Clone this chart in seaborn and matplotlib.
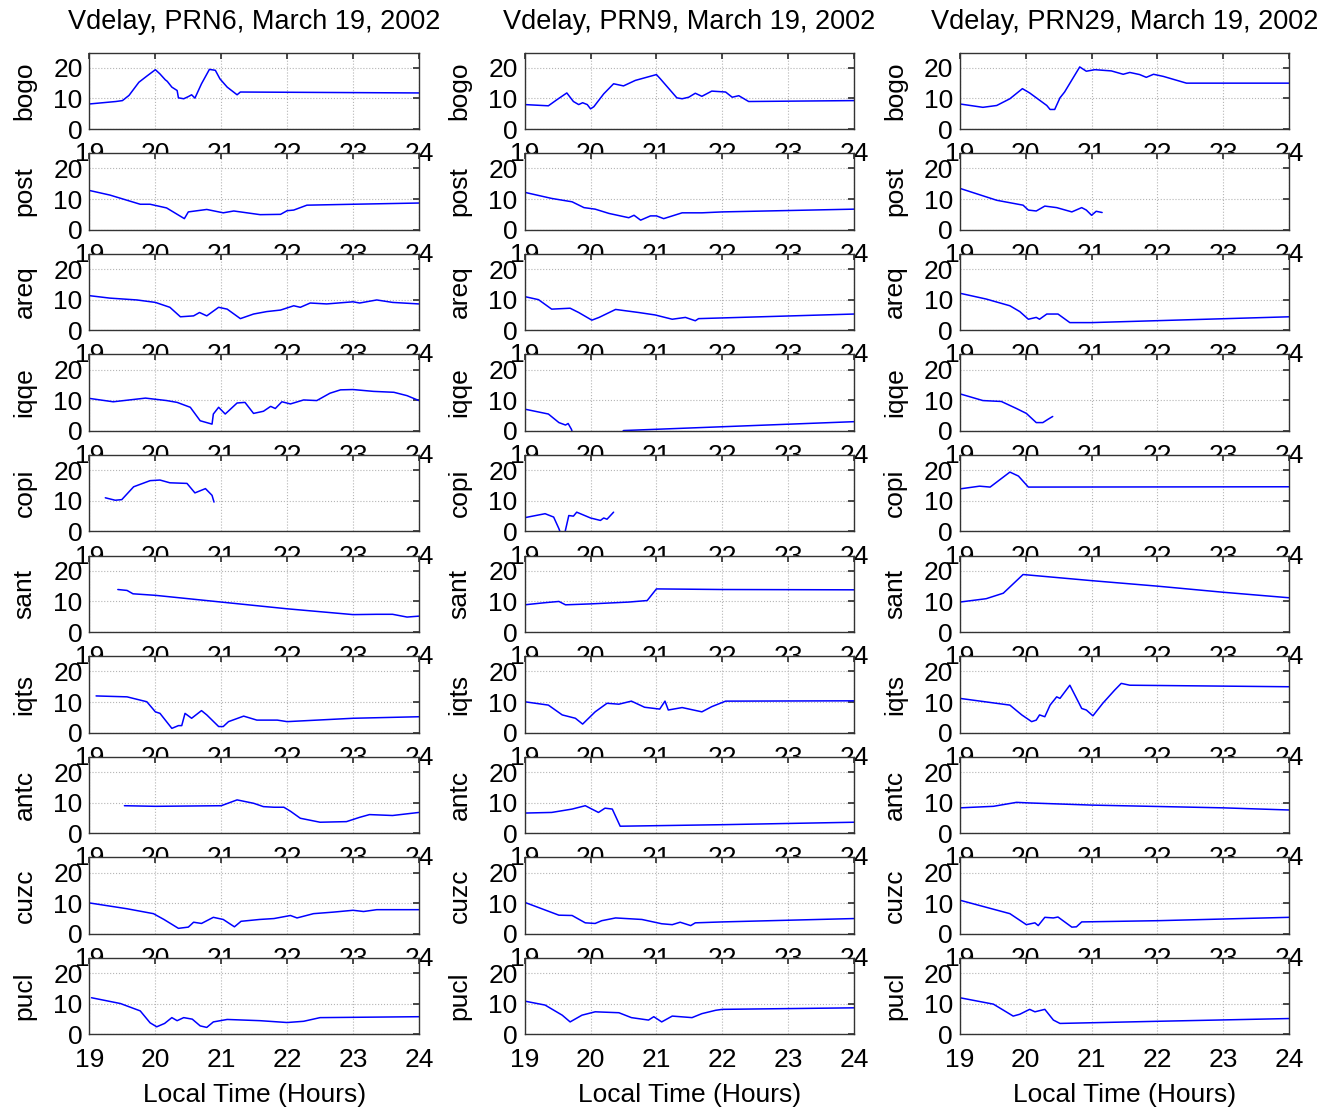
import matplotlib
matplotlib.use("Agg")
import numpy as np
import pandas as pd
import seaborn as sns
from matplotlib import pyplot as plt

PRNS = ["PRN6", "PRN9", "PRN29"]
STATIONS = ["bogo", "post", "areq", "iqqe", "copi", "sant", "iqts", "antc", "cuzc", "pucl"]
X_TICKS = [19, 20, 21, 22, 23, 24]
Y_TICKS = [0, 10, 20]

# ---- PRN6 ----
PRN6_BOGO_T = [19.0, 19.4, 19.5, 19.6, 19.75, 19.87, 20.0, 20.07, 20.15, 20.18, 20.25, 20.33, 20.35, 20.43, 20.5, 20.55, 20.6, 20.7, 20.82, 20.91, 20.98, 21.09, 21.24, 21.29, 24.0]
PRN6_BOGO_V = [8.2, 9.0, 9.3, 11.0, 15.3, 17.3, 19.4, 18.0, 16.1, 15.6, 13.7, 12.6, 10.2, 9.9, 10.6, 11.2, 10.1, 14.8, 19.5, 19.2, 16.4, 13.7, 11.2, 12.1, 11.8]
PRN6_POST_T = [19.0, 19.31, 19.77, 19.92, 20.17, 20.44, 20.5, 20.78, 21.03, 21.19, 21.39, 21.59, 21.9, 22.0, 22.1, 22.3, 23.0, 24.0]
PRN6_POST_V = [12.8, 11.3, 8.3, 8.3, 7.1, 3.6, 5.8, 6.6, 5.5, 6.1, 5.5, 4.9, 5.0, 6.2, 6.4, 8.0, 8.3, 8.7]
PRN6_AREQ_T = [19.0, 19.31, 19.72, 20.0, 20.22, 20.38, 20.58, 20.67, 20.78, 20.96, 21.09, 21.29, 21.49, 21.69, 21.9, 22.1, 22.2, 22.35, 22.6, 23.0, 23.1, 23.36, 23.6, 24.0]
PRN6_AREQ_V = [11.3, 10.5, 9.9, 9.1, 7.5, 4.4, 4.7, 5.8, 4.7, 7.5, 6.9, 3.8, 5.3, 6.1, 6.6, 8.0, 7.5, 8.9, 8.6, 9.3, 8.9, 9.9, 9.1, 8.6]
PRN6_IQQE_T = [19.0, 19.36, 19.85, 20.17, 20.33, 20.53, 20.68, 20.86, 20.88, 20.96, 21.06, 21.24, 21.36, 21.49, 21.64, 21.75, 21.82, 21.92, 22.05, 22.25, 22.45, 22.65, 22.81, 23.0, 23.31, 23.62, 23.82, 24.0]
PRN6_IQQE_V = [10.6, 9.5, 10.7, 9.9, 9.3, 7.7, 3.3, 2.2, 5.5, 7.7, 5.5, 9.1, 9.3, 5.7, 6.4, 8.0, 7.3, 9.5, 8.8, 10.1, 9.9, 12.3, 13.4, 13.5, 12.9, 12.6, 11.5, 9.9]
PRN6_COPI_T = [19.24, 19.39, 19.49, 19.67, 19.92, 20.07, 20.22, 20.48, 20.6, 20.68, 20.76, 20.81, 20.86, 20.89]
PRN6_COPI_V = [11.0, 10.2, 10.4, 14.6, 16.6, 16.8, 15.9, 15.7, 12.6, 13.3, 14.0, 12.9, 11.8, 9.6]
PRN6_SANT_T = [19.43, 19.57, 19.66, 20.0, 21.0, 22.0, 23.0, 23.36, 23.6, 23.82, 24.0]
PRN6_SANT_V = [13.9, 13.6, 12.5, 12.0, 9.8, 7.6, 5.7, 5.8, 5.8, 4.9, 5.2]
PRN6_IQTS_T = [19.1, 19.57, 19.87, 20.0, 20.07, 20.25, 20.35, 20.4, 20.45, 20.55, 20.7, 20.78, 20.96, 21.03, 21.11, 21.34, 21.54, 21.85, 22.0, 23.0, 24.0]
PRN6_IQTS_V = [12.0, 11.7, 10.1, 6.8, 6.3, 1.4, 2.3, 2.3, 6.3, 4.7, 7.2, 5.8, 2.0, 2.0, 3.6, 5.4, 4.1, 4.1, 3.6, 4.7, 5.2]
PRN6_ANTC_T = [19.53, 20.0, 21.0, 21.24, 21.49, 21.64, 21.8, 21.95, 22.05, 22.2, 22.5, 22.9, 23.1, 23.25, 23.6, 24.0]
PRN6_ANTC_V = [9.0, 8.8, 9.0, 10.9, 9.8, 8.7, 8.5, 8.5, 7.2, 4.9, 3.6, 3.8, 5.2, 6.1, 5.8, 6.8]
PRN6_CUZC_T = [19.0, 19.57, 19.97, 20.13, 20.35, 20.5, 20.58, 20.7, 20.88, 21.03, 21.2, 21.3, 21.58, 21.8, 22.05, 22.15, 22.4, 22.7, 23.0, 23.16, 23.36, 24.0]
PRN6_CUZC_V = [10.1, 8.2, 6.6, 4.7, 1.8, 2.2, 3.8, 3.4, 5.4, 4.7, 2.3, 4.1, 4.7, 5.0, 6.0, 5.2, 6.6, 7.1, 7.7, 7.3, 7.9, 7.9]
PRN6_PUCL_T = [19.03, 19.47, 19.77, 19.92, 20.02, 20.14, 20.25, 20.33, 20.43, 20.56, 20.68, 20.78, 20.88, 21.09, 21.59, 22.0, 22.25, 22.5, 24.0]
PRN6_PUCL_V = [12.0, 10.1, 7.7, 3.8, 2.5, 3.6, 5.5, 4.5, 5.5, 5.0, 2.8, 2.3, 4.1, 4.9, 4.5, 3.9, 4.3, 5.5, 5.8]

# ---- PRN9 ----
PRN9_BOGO_T = [19.0, 19.36, 19.49, 19.64, 19.74, 19.82, 19.88, 19.95, 20.0, 20.05, 20.2, 20.35, 20.5, 20.68, 21.0, 21.06, 21.31, 21.39, 21.49, 21.59, 21.69, 21.84, 22.05, 22.15, 22.25, 22.4, 24.0]
PRN9_BOGO_V = [8.0, 7.6, 9.6, 11.8, 9.0, 8.0, 8.6, 8.0, 6.6, 7.3, 11.5, 14.8, 14.1, 15.9, 17.8, 16.4, 10.2, 9.9, 10.4, 11.7, 10.7, 12.4, 12.1, 10.4, 10.9, 9.0, 9.3]
PRN9_POST_T = [19.0, 19.41, 19.72, 19.9, 20.07, 20.28, 20.58, 20.66, 20.76, 20.91, 21.0, 21.11, 21.39, 21.69, 22.0, 24.0]
PRN9_POST_V = [12.2, 10.2, 9.1, 7.2, 6.7, 5.3, 3.9, 4.7, 3.1, 4.5, 4.5, 3.6, 5.5, 5.5, 5.8, 6.7]
PRN9_AREQ_T = [19.0, 19.21, 19.41, 19.69, 19.82, 20.02, 20.13, 20.38, 20.73, 20.98, 21.24, 21.44, 21.59, 21.64, 24.0]
PRN9_AREQ_V = [11.0, 10.0, 6.9, 7.2, 5.8, 3.3, 4.2, 6.8, 5.8, 5.0, 3.6, 4.2, 3.1, 3.8, 5.3]
PRN9_IQQE_T = [19.0, 19.36, 19.52, 19.62, 19.66, 19.71, 19.76, 20.4, 20.5, 24.0]
PRN9_IQQE_V = [7.1, 5.5, 2.7, 1.9, 2.4, 0.5, -3.0, -3.0, 0.1, 3.0]
PRN9_COPI_T = [19.0, 19.31, 19.44, 19.52, 19.56, 19.6, 19.62, 19.67, 19.74, 19.79, 20.0, 20.15, 20.2, 20.25, 20.35]
PRN9_COPI_V = [4.5, 5.8, 4.7, 0.9, -1.5, -1.5, 0.5, 5.2, 5.0, 6.3, 4.4, 3.6, 4.4, 4.0, 6.3]
PRN9_SANT_T = [19.0, 19.31, 19.52, 19.62, 20.0, 20.58, 20.86, 21.0, 22.0, 24.0]
PRN9_SANT_V = [8.9, 9.6, 10.0, 8.9, 9.2, 9.8, 10.3, 14.1, 13.9, 13.8]
PRN9_IQTS_T = [19.0, 19.36, 19.57, 19.77, 19.88, 20.07, 20.25, 20.43, 20.62, 20.82, 21.05, 21.13, 21.18, 21.39, 21.69, 21.84, 22.05, 24.0]
PRN9_IQTS_V = [10.1, 9.0, 5.8, 4.7, 2.8, 6.8, 9.6, 9.3, 10.3, 8.3, 7.7, 10.3, 7.4, 8.2, 6.8, 8.5, 10.3, 10.4]
PRN9_ANTC_T = [19.0, 19.41, 19.72, 19.92, 20.12, 20.22, 20.33, 20.45, 22.0, 24.0]
PRN9_ANTC_V = [6.6, 6.8, 7.9, 9.0, 6.8, 8.2, 7.9, 2.3, 2.8, 3.6]
PRN9_CUZC_T = [19.0, 19.52, 19.72, 19.92, 20.07, 20.17, 20.38, 20.78, 21.08, 21.24, 21.36, 21.52, 21.59, 22.0, 24.0]
PRN9_CUZC_V = [10.3, 6.1, 6.0, 3.6, 3.4, 4.3, 5.2, 4.7, 3.3, 3.0, 3.8, 2.7, 3.6, 3.9, 5.0]
PRN9_PUCL_T = [19.0, 19.31, 19.57, 19.69, 19.87, 20.07, 20.43, 20.62, 20.88, 20.96, 21.08, 21.24, 21.54, 21.69, 21.9, 22.0, 24.0]
PRN9_PUCL_V = [10.9, 9.6, 6.3, 4.1, 6.3, 7.4, 7.1, 5.5, 4.7, 5.8, 4.1, 6.0, 5.5, 6.8, 7.9, 8.2, 8.7]

# ---- PRN29 ----
PRN29_BOGO_T = [19.0, 19.35, 19.56, 19.76, 19.95, 20.06, 20.32, 20.37, 20.44, 20.52, 20.59, 20.82, 20.92, 21.05, 21.3, 21.48, 21.58, 21.73, 21.83, 21.94, 22.09, 22.44, 24.0]
PRN29_BOGO_V = [8.2, 7.1, 7.7, 9.9, 13.2, 11.8, 7.7, 6.4, 6.4, 10.2, 12.1, 20.3, 18.9, 19.4, 19.0, 17.9, 18.5, 17.8, 16.9, 17.9, 17.2, 15.0, 15.0]
PRN29_POST_T = [19.0, 19.56, 19.96, 20.04, 20.16, 20.29, 20.47, 20.7, 20.85, 20.92, 21.0, 21.07, 21.16]
PRN29_POST_V = [13.5, 9.6, 8.0, 6.4, 6.1, 7.7, 7.2, 5.8, 7.2, 6.4, 4.7, 6.0, 5.6]
PRN29_AREQ_T = [19.0, 19.4, 19.76, 19.91, 20.04, 20.16, 20.21, 20.32, 20.49, 20.67, 21.0, 24.0]
PRN29_AREQ_V = [12.1, 10.2, 8.0, 6.1, 3.6, 4.2, 3.6, 5.3, 5.3, 2.5, 2.5, 4.4]
PRN29_IQQE_T = [19.0, 19.35, 19.63, 19.86, 20.01, 20.16, 20.26, 20.34, 20.41]
PRN29_IQQE_V = [12.1, 9.9, 9.6, 7.3, 5.7, 2.7, 2.7, 3.8, 4.7]
PRN29_COPI_T = [19.0, 19.3, 19.46, 19.76, 19.89, 20.04, 24.0]
PRN29_COPI_V = [13.9, 14.8, 14.5, 19.4, 18.1, 14.5, 14.6]
PRN29_SANT_T = [19.0, 19.4, 19.66, 19.96, 21.0, 22.0, 23.0, 24.0]
PRN29_SANT_V = [9.8, 10.9, 12.7, 18.8, 16.8, 15.0, 13.0, 11.2]
PRN29_IQTS_T = [19.0, 19.76, 19.94, 20.09, 20.16, 20.21, 20.29, 20.37, 20.47, 20.52, 20.67, 20.85, 20.92, 21.02, 21.17, 21.35, 21.45, 21.58, 24.0]
PRN29_IQTS_V = [11.2, 9.0, 5.8, 3.6, 4.1, 5.8, 5.2, 9.0, 11.7, 11.2, 15.5, 7.9, 7.4, 5.5, 9.6, 13.9, 16.1, 15.5, 15.0]
PRN29_ANTC_T = [19.0, 19.51, 19.86, 20.06, 21.0, 23.0, 24.0]
PRN29_ANTC_V = [8.3, 8.8, 10.1, 9.9, 9.2, 8.3, 7.6]
PRN29_CUZC_T = [19.0, 19.76, 20.01, 20.14, 20.19, 20.29, 20.42, 20.49, 20.7, 20.77, 20.85, 22.0, 24.0]
PRN29_CUZC_V = [11.0, 6.6, 3.0, 3.6, 2.7, 5.4, 5.2, 5.5, 2.2, 2.3, 3.9, 4.3, 5.4]
PRN29_PUCL_T = [19.0, 19.51, 19.81, 19.91, 20.06, 20.14, 20.29, 20.42, 20.52, 22.0, 24.0]
PRN29_PUCL_V = [12.0, 9.9, 6.0, 6.6, 8.2, 7.4, 8.2, 4.7, 3.6, 4.3, 5.2]


def build_frame():
    rows = []
    for prn in PRNS:
        for st in STATIONS:
            t = globals()[f"{prn}_{st.upper()}_T"]
            v = globals()[f"{prn}_{st.upper()}_V"]
            for ti, vi in zip(t, v):
                rows.append((prn, st, ti, vi))
    return pd.DataFrame(rows, columns=["prn", "station", "time", "vdelay"])


sns.set_theme(style="white")
plt.rcParams["font.family"] = ["Liberation Sans", "DejaVu Sans"]
plt.rcParams.update({
    "font.size": 19,
    "text.color": "black",
    "axes.labelcolor": "black",
    "axes.edgecolor": "#333333",
    "axes.linewidth": 1.0,
    "xtick.color": "#333333",
    "ytick.color": "#333333",
    "xtick.labelcolor": "black",
    "ytick.labelcolor": "black",
})

df = build_frame()

fig, axes = plt.subplots(10, 3, figsize=(13.2, 11.11), dpi=100)
fig.subplots_adjust(left=0.0678, right=0.9767, top=0.9527, bottom=0.0689,
                    wspace=0.321, hspace=0.315)

for c, prn in enumerate(PRNS):
    for r, st in enumerate(STATIONS):
        ax = axes[r, c]
        sub = df[(df["prn"] == prn) & (df["station"] == st)]
        sns.lineplot(data=sub, x="time", y="vdelay", ax=ax, color="blue",
                     lw=1.1, estimator=None, sort=False)
        ax.set_xlim(19, 24)
        ax.set_ylim(0, 25)
        ax.set_xticks(X_TICKS)
        ax.set_yticks(Y_TICKS)
        ax.grid(True, linestyle=":", color="#b5b5b5", linewidth=0.8)
        ax.tick_params(direction="in", length=4, top=True, right=True,
                       labelsize=19, pad=5)
        ax.tick_params(axis="x", pad=9.5)
        ax.set_ylabel(st, fontsize=19, labelpad=12)
        ax.set_facecolor("white")
        if r == 9:
            ax.set_xlabel("Local Time (Hours)", fontsize=19, labelpad=8)
        else:
            ax.set_xlabel("")
    axes[0, c].set_title(f"Vdelay, {prn}, March 19, 2002", fontsize=19.5, pad=17)

fig.savefig("out.png", dpi=100, facecolor="white")
